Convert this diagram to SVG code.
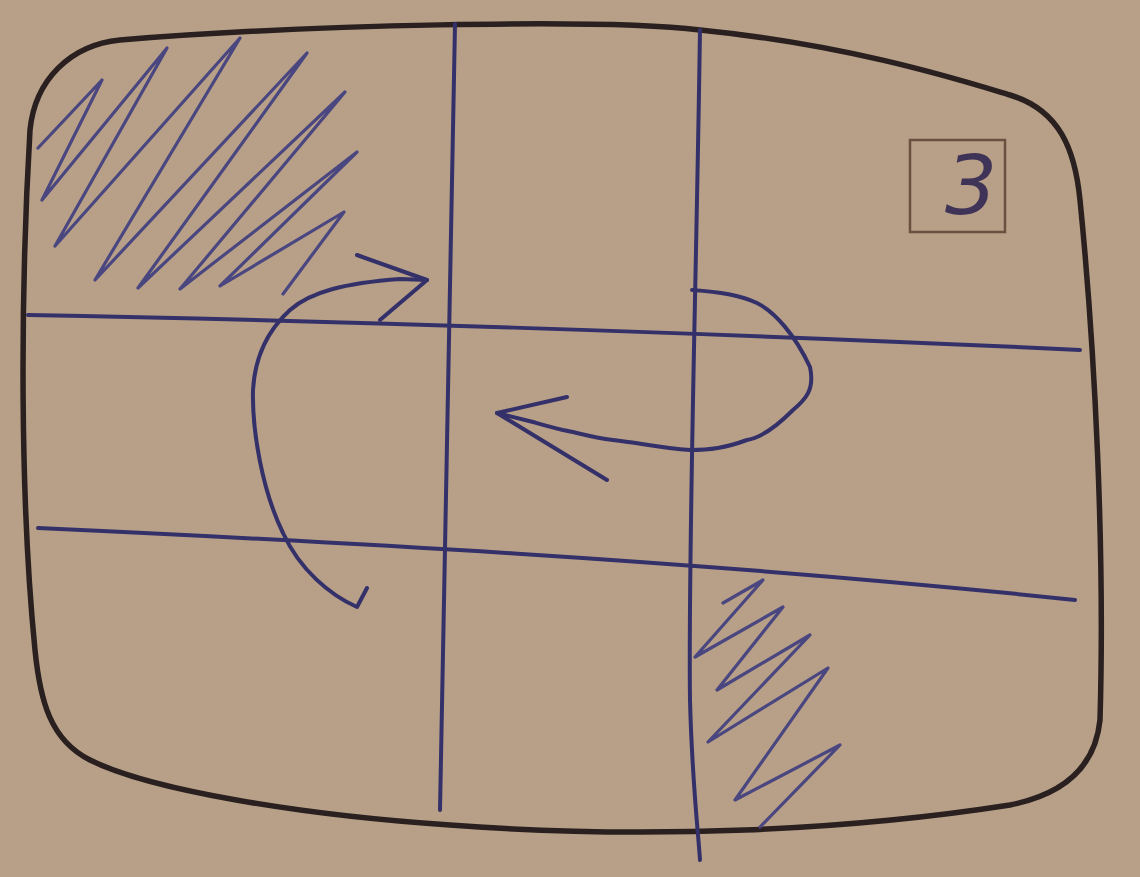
<svg xmlns="http://www.w3.org/2000/svg" width="1140" height="877" viewBox="0 0 1140 877">
<style>
.ink{fill:none;stroke:#34306a;stroke-width:4;stroke-linecap:round;stroke-linejoin:round}
.hatch{fill:none;stroke:#4a4680;stroke-width:3.2;stroke-linecap:round;stroke-linejoin:round}
.frame{fill:none;stroke:#2a2020;stroke-width:5.5;stroke-linecap:round;stroke-linejoin:round}
</style>
<rect x="0" y="0" width="1140" height="877" fill="#b7a087"/>
<g id="frame">
<path class="frame" d="M120,40 C300,25 600,18 700,30 C850,45 960,80 1010,95 C1060,110 1075,150 1080,200 C1095,350 1105,550 1100,720 C1095,770 1060,795 1010,805 C850,830 650,840 450,825 C300,815 150,790 90,760 C50,740 40,700 35,650 C20,500 20,300 30,130 C35,80 70,45 120,40 Z"/>
</g>
<g id="grid">
<path class="ink" d="M455,24 C453,200 448,500 440,810"/>
<path class="ink" d="M700,30 C696,300 688,550 690,700 C692,780 698,830 700,860"/>
<path class="ink" d="M28,315 C300,320 700,332 1080,350"/>
<path class="ink" d="M38,528 C300,540 700,560 1075,600"/>
</g>
<g id="hatch-top-left">
<path class="hatch" d="M38,148 L102,80 L42,200 L167,48 L55,246 L240,38 L95,280 L307,53 L138,288 L345,92 L180,289 L357,152 L220,286 L344,212 L283,294"/>
</g>
<g id="hatch-bottom-right">
<path class="hatch" d="M723,603 L763,580 L695,657 L783,607 L717,690 L810,635 L708,742 L828,668 L735,800 L840,745 L760,827"/>
</g>
<g id="label-3">
<rect x="910" y="140" width="95" height="92" fill="none" stroke="#6a5040" stroke-width="2.5"/>
<text x="971" y="214" text-anchor="middle" font-family="DejaVu Sans, sans-serif" font-style="italic" font-size="82" fill="#3f3458">3</text>
</g>
<g id="connectors">
<path class="ink" d="M367,588 L357,607 C330,595 300,570 283,533 C262,490 252,430 253,390 C255,355 268,330 290,310 C310,292 345,283 400,279 L427,280"/>
<path class="ink" d="M357,255 L427,280 L380,320"/>
<path class="ink" d="M692,290 C720,292 740,295 757,303 C775,312 795,335 810,367 C815,390 805,400 793,410 C775,428 760,438 747,440 C725,448 710,450 690,450 C660,448 640,443 613,440 C590,437 575,432 563,430 C550,427 540,424 533,422 L497,413"/>
<path class="ink" d="M567,397 L497,413 L607,480"/>
</g>
</svg>
